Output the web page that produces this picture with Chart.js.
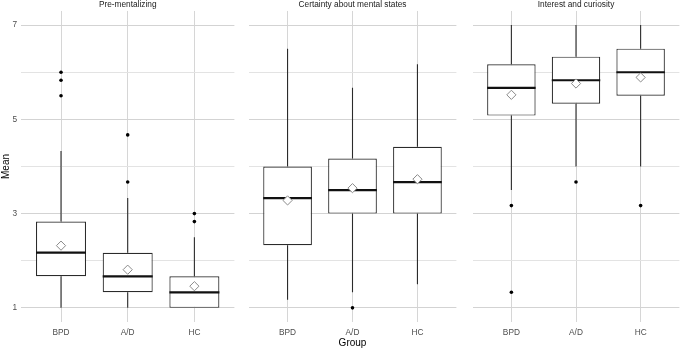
<!DOCTYPE html>
<html><head><meta charset="utf-8">
<script src="https://cdn.jsdelivr.net/npm/chart.js@4/dist/chart.umd.min.js"></script>
<style>
html,body{margin:0;padding:0;background:#fff;}
#wrap{position:relative;width:685px;height:349px;overflow:hidden;}
.pane{position:absolute;top:0;height:349px;}
.pane canvas{display:block;}
</style></head><body>
<div id="wrap">
  <div class="pane" style="left:0;width:240px"><canvas id="c1" width="240" height="349"></canvas></div>
  <div class="pane" style="left:243px;width:219px"><canvas id="c2" width="219" height="349"></canvas></div>
  <div class="pane" style="left:467px;width:218px"><canvas id="c3" width="218" height="349"></canvas></div>
</div>
<script>
// ---- data ----
const groups = ['BPD', 'A/D', 'HC'];
const facets = ['Pre-mentalizing', 'Certainty about mental states', 'Interest and curiosity'];
const yTickLabels = [1, 3, 5, 7];
const yGridValues = [1, 2, 3, 4, 5, 6, 7];

const preLow  = [1.00, 1.00, 1.00];
const preQ1   = [1.67, 1.33, 1.00];
const preMed  = [2.17, 1.67, 1.33];
const preQ3   = [2.83, 2.17, 1.67];
const preHigh = [4.33, 3.33, 2.50];
const preMean = [2.32, 1.81, 1.46];
const preOut  = [[6.00, 5.83, 5.50], [4.67, 3.67], [3.00, 2.83]];

const certLow  = [1.17, 1.33, 1.50];
const certQ1   = [2.33, 3.00, 3.00];
const certMed  = [3.33, 3.50, 3.67];
const certQ3   = [4.00, 4.17, 4.42];
const certHigh = [6.50, 5.67, 6.17];
const certMean = [3.28, 3.54, 3.73];
const certOut  = [[], [1.00], []];

const intLow  = [3.50, 4.00, 4.00];
const intQ1   = [5.08, 5.33, 5.50];
const intMed  = [5.67, 5.83, 6.00];
const intQ3   = [6.17, 6.33, 6.50];
const intHigh = [7.00, 7.00, 7.00];
const intMean = [5.52, 5.76, 5.89];
const intOut  = [[3.17, 1.33], [3.67], [3.17]];

// ---- chart ----
Chart.defaults.font.family = "'Liberation Sans', Arial, Helvetica, sans-serif";
Chart.defaults.animation = false;

function makePanel(id, title, low, q1, med, q3, high, mean, out, showY, showXTitle) {
  const boxes = groups.map((g, i) => ({ x: i + 1, y: [q1[i], q3[i]] }));
  const whisk = [];
  groups.forEach((g, i) => {
    whisk.push({ x: i + 1, y: low[i] }, { x: i + 1, y: q1[i] }, { x: i + 1, y: null });
    whisk.push({ x: i + 1, y: q3[i] }, { x: i + 1, y: high[i] }, { x: i + 1, y: null });
  });
  const meds = [];
  groups.forEach((g, i) => {
    meds.push({ x: i + 1 - 0.375, y: med[i] }, { x: i + 1 + 0.375, y: med[i] }, { x: i + 1.5, y: null });
  });
  const outs = [];
  out.forEach((arr, i) => arr.forEach(v => outs.push({ x: i + 1, y: v })));
  const means = groups.map((g, i) => ({ x: i + 1, y: mean[i] }));

  return new Chart(document.getElementById(id), {
    type: 'bar',
    data: {
      datasets: [
        { type: 'line', data: whisk, borderColor: '#2b2b2b', borderWidth: 1.1, pointRadius: 0, spanGaps: false, order: 4 },
        { type: 'bar', data: boxes, backgroundColor: '#ffffff', borderColor: '#2b2b2b', borderWidth: 1.2, borderSkipped: false,
          barPercentage: 0.75, categoryPercentage: 1, grouped: false, order: 3 },
        { type: 'line', data: meds, borderColor: '#111111', borderWidth: 2.2, pointRadius: 0, spanGaps: false, borderCapStyle: 'butt', order: 2 },
        { type: 'scatter', data: outs, pointStyle: 'circle', pointRadius: 1.8, backgroundColor: '#000000', borderColor: '#000000', borderWidth: 0, order: 1 },
        { type: 'scatter', data: means, pointStyle: 'rectRot', pointRadius: 4.6, backgroundColor: '#ffffff', borderColor: '#8a8a8a', borderWidth: 1, order: 0 }
      ]
    },
    options: {
      responsive: false,
      maintainAspectRatio: false,
      events: [],
      layout: { padding: { left: 0, right: showY ? 1 : 0, top: 0, bottom: 0 } },
      plugins: {
        legend: { display: false },
        tooltip: { enabled: false },
        title: { display: true, text: title, fullSize: false, color: '#1a1a1a',
                 font: { size: 8.3, weight: 'normal' }, padding: { top: 0, bottom: 1 } }
      },
      scales: {
        x: {
          type: 'linear', min: 0.4, max: 3.6, offset: false,
          afterBuildTicks: s => { s.ticks = groups.map((g, i) => ({ value: i + 1 })); },
          ticks: { autoSkip: false, maxRotation: 0, color: '#4d4d4d', font: { size: 8.3 }, padding: 6,
                   callback: v => groups[Math.round(v) - 1] },
          grid: { color: '#d6d6d6', lineWidth: 1, drawTicks: false, offset: false },
          border: { display: false },
          title: { display: showXTitle, text: 'Group', color: '#000000', font: { size: 10 }, padding: { top: 1, bottom: 0 } },
          afterFit: s => { s.height = 27; }
        },
        y: {
          type: 'linear', min: 0.7, max: 7.3,
          afterBuildTicks: s => { s.ticks = yGridValues.map(v => ({ value: v })); },
          ticks: { display: showY, color: '#4d4d4d', font: { size: 8.3 }, padding: 4,
                   callback: v => yTickLabels.includes(v) ? String(v) : '' },
          grid: { color: c => (c.tick && yTickLabels.includes(c.tick.value)) ? '#d3d3d3' : '#e3e3e3', lineWidth: 1, drawTicks: false },
          border: { display: false },
          title: { display: showY, text: 'Mean', color: '#000000', font: { size: 10 }, padding: { top: 0, bottom: 2 } },
          afterFit: s => { s.width = showY ? 21 : 0; }
        }
      }
    }
  });
}

makePanel('c1', facets[0], preLow, preQ1, preMed, preQ3, preHigh, preMean, preOut, true, false);
makePanel('c2', facets[1], certLow, certQ1, certMed, certQ3, certHigh, certMean, certOut, false, true);
makePanel('c3', facets[2], intLow, intQ1, intMed, intQ3, intHigh, intMean, intOut, false, false);
</script>
</body></html>
